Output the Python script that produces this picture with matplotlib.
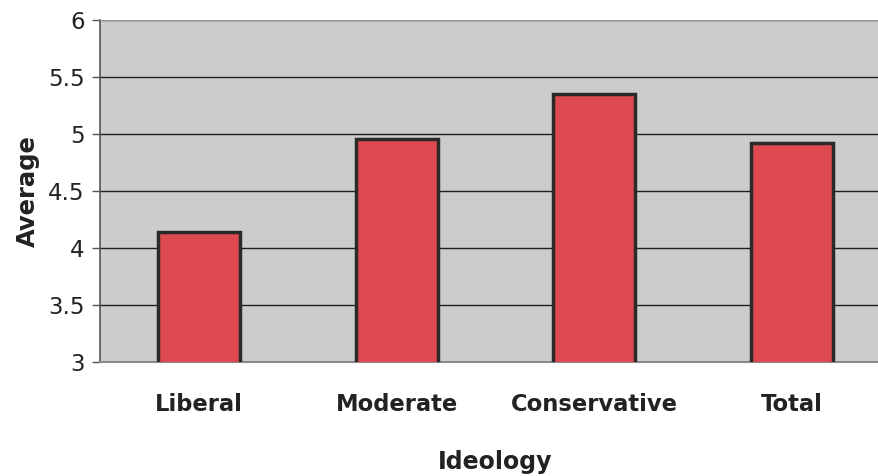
import matplotlib.pyplot as plt
import numpy as np

# Data
categories = ["Liberal", "Moderate", "Conservative", "Total"]
averages = [4.14, 4.96, 5.35, 4.92]
yticks = [3, 3.5, 4, 4.5, 5, 5.5, 6]

PLOT_BG = "#CBCDCD"
BAR_RED = "#DD4A52"
EDGE = "#2A2A2A"
TEXT = "#222222"

fig = plt.figure(figsize=(8.79, 4.76), dpi=100)
fig.patch.set_facecolor("white")
ax = fig.add_axes([100 / 879, 1 - 362 / 476, 791 / 879, 342 / 476])
ax.set_facecolor(PLOT_BG)

x = np.arange(len(categories))
ax.bar(x, averages, width=0.415, color=BAR_RED, edgecolor=EDGE,
       linewidth=2.5, zorder=3)

ax.set_xlim(-0.5, len(categories) - 0.5)
ax.set_ylim(3, 6)
ax.set_yticks(yticks)
ax.set_yticklabels([f"{v:g}" for v in yticks], fontsize=16.5, color=TEXT)
ax.yaxis.grid(True, color="#1E1E1E", linewidth=1.0, zorder=1)
ax.set_axisbelow(True)

ax.set_xticks(x)
ax.set_xticklabels(categories, fontsize=16.3, fontweight="bold", color=TEXT)
ax.tick_params(axis="x", length=0, pad=22)
ax.tick_params(axis="y", length=6, width=1, color="#555555", pad=5)

ax.set_ylabel("Average", fontsize=17.5, fontweight="bold", color=TEXT,
              labelpad=6)
ax.set_xlabel("Ideology", fontsize=17, fontweight="bold", color=TEXT,
              labelpad=25)

ax.spines["left"].set_color("#555555")
ax.spines["left"].set_linewidth(1.2)
ax.spines["bottom"].set_color("#8A8A8A")
ax.spines["bottom"].set_linewidth(1.5)
ax.spines["top"].set_color("#9A9A9A")
ax.spines["right"].set_visible(False)

fig.savefig("out.png", dpi=100, facecolor="white")
